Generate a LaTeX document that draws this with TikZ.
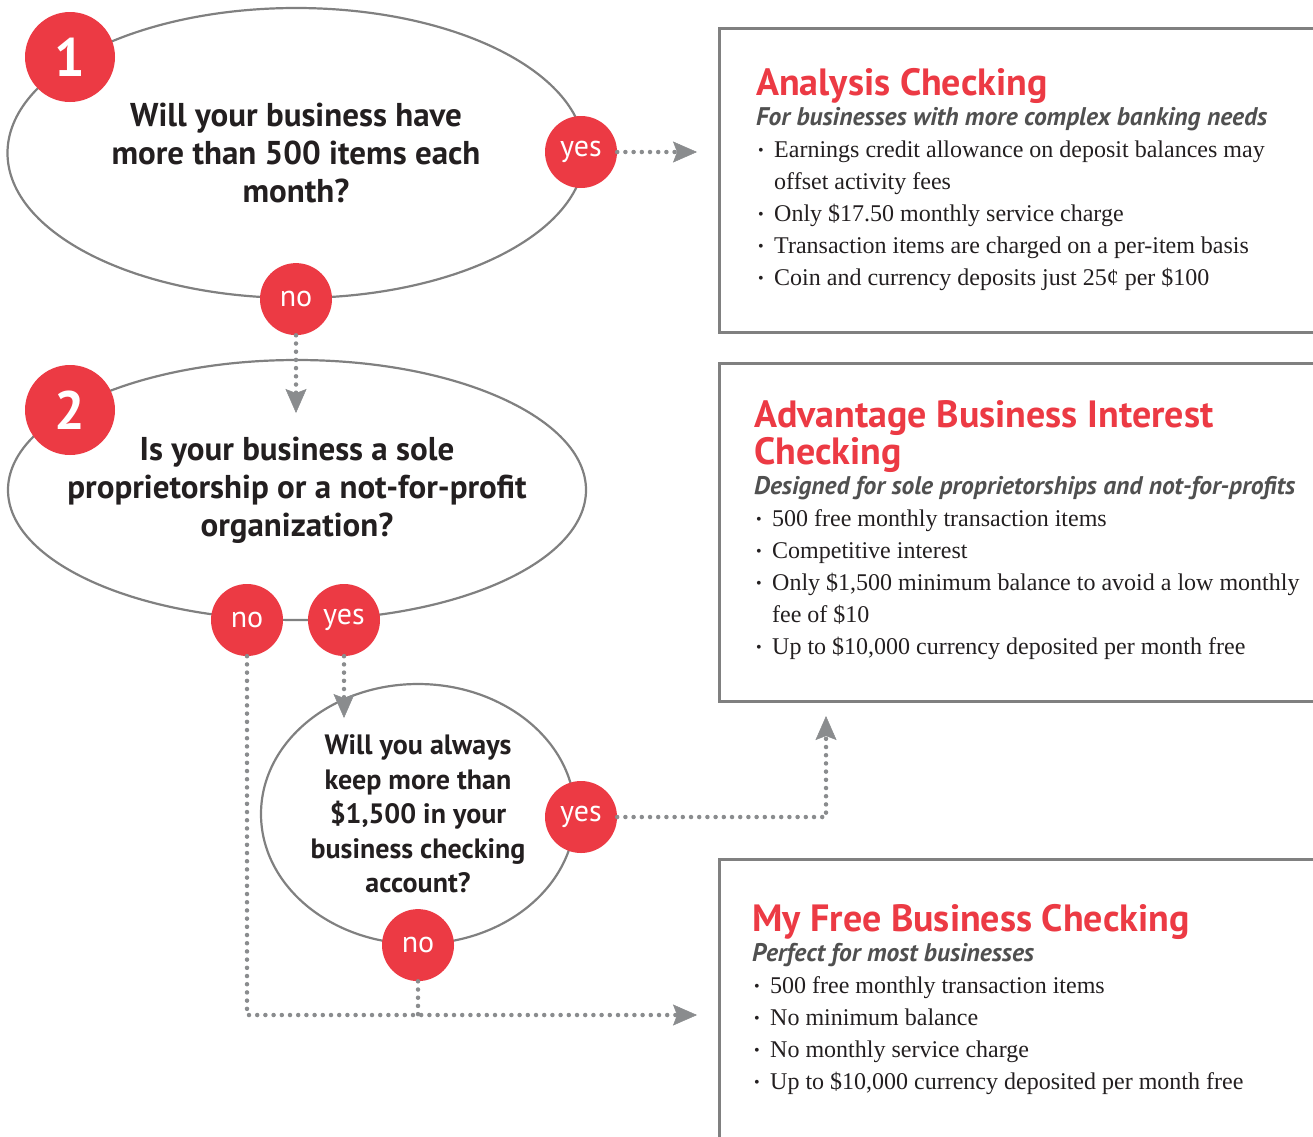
\documentclass[tikz,border=0pt]{standalone}
\usepackage{fontspec}
\setmainfont{Liberation Serif}
\newfontfamily\headfont{PT Sans}
\usetikzlibrary{shapes.geometric,arrows.meta}
\definecolor{bankred}{RGB}{236,58,68}
\definecolor{rimgray}{RGB}{128,128,128}
\definecolor{dotgray}{RGB}{138,140,142}
\definecolor{subgray}{RGB}{80,80,80}
\definecolor{inkblack}{RGB}{35,31,32}
\newcommand{\bul}{\makebox[18pt][l]{\hspace{2pt}\fontsize{16}{16}\selectfont\raisebox{1.5pt}{•}}}
\newcommand{\cont}{\hspace*{18pt}}
\newcommand{\boxtitle}[1]{{\fontsize{38}{37}\selectfont\headfont\bfseries\color{bankred}#1\par}}
\newcommand{\boxsub}[1]{{\fontsize{25.5}{30}\selectfont\headfont\bfseries\itshape\color{subgray}#1\par}}
\tikzstyle{question} = [ellipse, draw=rimgray, line width=2.2pt, fill=white, inner sep=0pt]
\tikzstyle{asktext} = [align=center, inner sep=0pt, text=inkblack, font=\fontsize{33}{38}\selectfont\headfont\bfseries]
\tikzstyle{badge} = [circle, fill=bankred, text=white, minimum size=72pt, inner sep=0pt, font=\fontsize{30}{30}\selectfont\headfont]
\tikzstyle{numbadge} = [badge, minimum size=90pt, font=\fontsize{54}{54}\selectfont\headfont\bfseries]
\tikzstyle{panel} = [draw=rimgray, line width=2.5pt, anchor=north west, minimum width=640pt, inner sep=0pt]
\tikzstyle{panetext} = [anchor=base west, inner sep=0pt, text=inkblack]
\tikzstyle{link} = [draw=dotgray, line width=4.5pt, line cap=round, dash pattern=on 0pt off 8.2pt]
\tikzstyle{tip} = [-{Stealth[length=24pt, width=21pt, inset=4pt, line width=0.5pt]}]

\begin{document}
\begin{tikzpicture}[x=1pt, y=-1pt]
	\useasboundingbox (0,0) rectangle (1313,1136);
	\clip (0,0) rectangle (1313,1136);

	% answer panels
	\node[panel, minimum height=304pt] (box1) at (718,27) {};
	\node[panel, minimum height=338pt] (box2) at (718,362) {};
	\node[panel, minimum height=320pt] (box3) at (718,858) {};

	\node[panetext] (info1) at (756,68) {
		\begin{minipage}[t]{600pt}
			\boxtitle{Analysis Checking}
			\boxsub{For businesses with more complex banking needs}
			{\fontsize{24}{32}\selectfont
			\bul Earnings credit allowance on deposit balances may\\
			\cont offset activity fees\\
			\bul Only \$17.50 monthly service charge\\
			\bul Transaction items are charged on a per-item basis\\
			\bul Coin and currency deposits just 25¢ per \$100\par}
		\end{minipage}};
	\node[panetext] (info2) at (754,400) {
		\begin{minipage}[t]{600pt}
			\boxtitle{Advantage Business Interest\\Checking}
			\boxsub{Designed for sole proprietorships and not-for-profits}
			{\fontsize{24}{32}\selectfont
			\bul 500 free monthly transaction items\\
			\bul Competitive interest\\
			\bul Only \$1,500 minimum balance to avoid a low monthly\\
			\cont fee of \$10\\
			\bul Up to \$10,000 currency deposited per month free\par}
		\end{minipage}};
	\node[panetext] (info3) at (752,904) {
		\begin{minipage}[t]{600pt}
			\boxtitle{My Free Business Checking}
			\boxsub{Perfect for most businesses}
			{\fontsize{24}{32}\selectfont
			\bul 500 free monthly transaction items\\
			\bul No minimum balance\\
			\bul No monthly service charge\\
			\bul Up to \$10,000 currency deposited per month free\par}
		\end{minipage}};

	% questions
	\node[question, minimum width=577pt, minimum height=290pt] (q1) at (296,153) {};
	\node[asktext] (ask1) at (q1) {Will your business have\\more than 500 items each\\month?};
	\node[question, minimum width=578pt, minimum height=260pt] (q2) at (297,490) {};
	\node[asktext] (ask2) at (q2) {Is your business a sole\\proprietorship or a not-for-profit\\organization?};
	\node[question, minimum width=314pt, minimum height=260pt] (q3) at (418,814) {};
	\node[asktext, font=\fontsize{28}{34.5}\selectfont\headfont\bfseries] (ask3) at (q3) {Will you always\\keep more than\\\$1,500 in your\\business checking\\account?};

	% badges
	\node[numbadge] (n1) at (70,57) {1};
	\node[numbadge] (n2) at (70,410) {2};
	\node[badge] (yes1) at (581,152) {yes};
	\node[badge] (no1) at (q1.south) {no};
	\node[badge] (no2) at (247,620) {no};
	\node[badge] (yes2) at (344,620) {yes};
	\node[badge] (yes3) at (581,817) {yes};
	\node[badge] (no3) at (q3.south) {no};

	% connectors
	\coordinate (in1) at (697,152);
	\coordinate (in2) at (296,413);
	\coordinate (in3) at (344,718);
	\coordinate (in4) at (697,1015);
	\coordinate (in5) at (826,716);
	\coordinate (join) at (418,1015);
	\draw[link, tip] (yes1) -- (in1);
	\draw[link, tip] (no1) -- (in2);
	\draw[link, tip] (yes2) -- (in3);
	\draw[link, tip] (no2) |- (in4);
	\draw[link] (no3) -- (join);
	\draw[link, tip] (yes3) -| (in5);
\end{tikzpicture}
\end{document}
